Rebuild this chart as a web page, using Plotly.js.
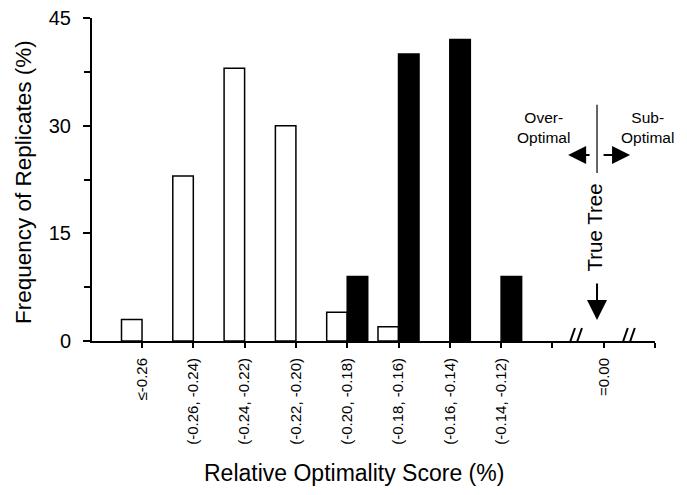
<!DOCTYPE html>
<html>
<head>
<meta charset="utf-8">
<script src="https://cdn.plot.ly/plotly-3.0.1.min.js"></script>
<style>html,body{margin:0;padding:0;background:#fff;}#chart{width:687px;height:495px;}</style>
</head>
<body>
<div id="chart"></div>
<script>
// ---- data ----
const categories = ["≤-0.26", "(-0.26, -0.24)", "(-0.24, -0.22)", "(-0.22, -0.20)",
                    "(-0.20, -0.18)", "(-0.18, -0.16)", "(-0.16, -0.14)", "(-0.14, -0.12)"];
const extraCategories = [" ", "=0.00", "  "];
const openBarValues   = [3, 23, 38, 30, 4, 2, null, null];      // white bars (%)
const filledBarValues = [null, null, null, null, 9, 40, 42, 9]; // black bars (%)
const yTickValues = [0, 15, 30, 45];

const axisCats = categories.concat(extraCategories);
const FONT = "Liberation Sans, Arial, Helvetica, sans-serif";

const traces = [
  {
    type: "bar", x: categories, y: openBarValues, width: 0.4, offset: -0.4,
    marker: {color: "#ffffff", line: {color: "#000000", width: 1.5}},
    hoverinfo: "skip", showlegend: false
  },
  {
    type: "bar", x: categories, y: filledBarValues, width: 0.4, offset: 0,
    marker: {color: "#000000", line: {color: "#000000", width: 1.5}},
    hoverinfo: "skip", showlegend: false
  }
];

function brk(xc) {
  return [
    {type: "line", xref: "x", yref: "y", xsizemode: "pixel", ysizemode: "pixel",
     xanchor: xc, yanchor: 0, x0: -7, y0: -7, x1: 0, y1: 13, line: {color: "#000", width: 2}},
    {type: "line", xref: "x", yref: "y", xsizemode: "pixel", ysizemode: "pixel",
     xanchor: xc, yanchor: 0, x0: 0, y0: -7, x1: 7, y1: 13, line: {color: "#000", width: 2}}
  ];
}

const layout = {
  width: 687, height: 495,
  margin: {l: 92, r: 32, t: 18, b: 154},
  paper_bgcolor: "#fff", plot_bgcolor: "#fff",
  barmode: "overlay",
  font: {family: FONT, color: "#000"},
  xaxis: {
    type: "category", categoryorder: "array", categoryarray: axisCats,
    tickmode: "array", tickvals: axisCats, ticktext: axisCats,
    range: [-0.975, 10.0],
    showline: true, linecolor: "#000", linewidth: 2,
    ticks: "outside", ticklen: 5, tickwidth: 2, tickcolor: "#000",
    tickangle: -90, tickfont: {family: FONT, size: 15, color: "#000"},
    ticklabelstandoff: 4,
    showgrid: false, zeroline: false, fixedrange: true
  },
  yaxis: {
    range: [0, 45], tickmode: "array", tickvals: yTickValues,
    showline: true, linecolor: "#000", linewidth: 2,
    ticks: "outside", ticklen: 7, tickwidth: 2, tickcolor: "#000",
    minor: {dtick: 7.5, ticks: "outside", ticklen: 6, tickwidth: 2, tickcolor: "#000", showgrid: false},
    tickfont: {family: FONT, size: 20, color: "#000"},
    ticklabelstandoff: 8,
    showgrid: false, zeroline: false, fixedrange: true
  },
  shapes: [
    ...brk(8.44), ...brk(9.47),
    {type: "line", xref: "x", yref: "y", x0: 8.87, x1: 8.87, y0: 23.4, y1: 32.9,
     line: {color: "#333", width: 1.5}}
  ],
  annotations: [
    {xref: "paper", yref: "paper", x: -0.1226, y: 0.492, xanchor: "center", yanchor: "middle",
     text: "Frequency of Replicates (%)", textangle: -90, showarrow: false,
     font: {family: FONT, size: 22.5, color: "#000"}},
    {xref: "paper", yref: "paper", x: 0.465, y: -0.41, xanchor: "center", yanchor: "middle",
     text: "Relative Optimality Score (%)", showarrow: false,
     font: {family: FONT, size: 23, color: "#000"}},
    {xref: "x", yref: "y", x: 7.82, y: 29.8, xanchor: "center", yanchor: "middle",
     text: "Over-<br>Optimal", showarrow: false, align: "center",
     font: {family: FONT, size: 15.5, color: "#000"}},
    {xref: "x", yref: "y", x: 9.86, y: 29.8, xanchor: "center", yanchor: "middle",
     text: "Sub-<br>Optimal", showarrow: false, align: "center",
     font: {family: FONT, size: 15.5, color: "#000"}},
    {xref: "x", yref: "y", x: 8.83, y: 15.8, xanchor: "center", yanchor: "middle",
     text: "True Tree", textangle: -90, showarrow: false,
     font: {family: FONT, size: 20.5, color: "#000"}},
    {xref: "x", yref: "y", x: 8.306, y: 25.9, ax: 23, ay: 0, text: "", showarrow: true,
     arrowhead: 2, arrowsize: 1.8, arrowwidth: 2, arrowcolor: "#000"},
    {xref: "x", yref: "y", x: 9.514, y: 25.9, ax: -28, ay: 0, text: "", showarrow: true,
     arrowhead: 2, arrowsize: 1.8, arrowwidth: 2, arrowcolor: "#000"},
    {xref: "x", yref: "y", x: 8.87, y: 2.93, ax: 0, ay: -38, text: "", showarrow: true,
     arrowhead: 2, arrowsize: 2.0, arrowwidth: 2, arrowcolor: "#000"}
  ]
};

Plotly.newPlot("chart", traces, layout, {staticPlot: true, displayModeBar: false});
</script>
</body>
</html>
